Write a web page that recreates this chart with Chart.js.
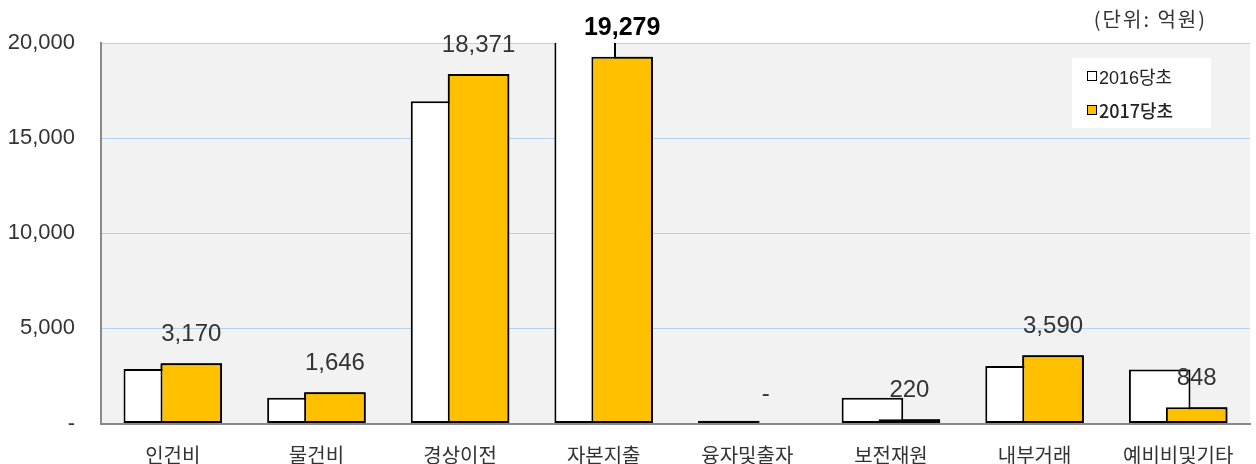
<!DOCTYPE html>
<html>
<head>
<meta charset="utf-8">
<script src="https://cdn.jsdelivr.net/npm/chart.js@4"></script>
<style>
  body { margin: 0; background: #fff; }
  #wrap { position: relative; width: 1256px; height: 464px; }
  #unit { position: absolute; right: 49px; top: 4px; font: 20px "Noto Sans CJK KR", sans-serif; color: #333; letter-spacing: 2px; }
  #legend { position: absolute; left: 1072px; top: 58px; width: 139px; height: 70px; background: #fff; }
  .item { position: absolute; left: 15px; height: 20px; display: flex; align-items: center; font-size: 18px; color: #222; }
  .box { width: 8px; height: 8px; border: 1.5px solid #000; margin-right: 2px; }
</style>
</head>
<body>
<div id="wrap">
  <canvas id="chart" width="1256" height="464"></canvas>
  <div id="unit">(단위: 억원)</div>
  <div id="legend">
    <div class="item" style="top:8px; font-family:'Liberation Sans','Noto Sans CJK KR',sans-serif;"><span class="box" style="background:#fff"></span>2016당초</div>
    <div class="item" style="top:42px; font-family:'Noto Sans CJK KR',sans-serif; font-weight:500;"><span class="box" style="background:#ffc000"></span>2017당초</div>
  </div>
</div>
<script>
// 예산 성질별 (단위: 억원)
const categories = ['인건비', '물건비', '경상이전', '자본지출', '융자및출자', '보전재원', '내부거래', '예비비및기타'];
const budget2016 = [2870, 1350, 16940, 21300, 150, 1350, 3020, 2840];
const budget2017 = [3170, 1646, 18371, 19279, 0, 220, 3590, 848];
const yMax = 20000;
const yStep = 5000;

const fmt = v => v === 0 ? '-' : v.toLocaleString('en-US');

// gray plot background
const plotBg = {
    id: 'plotBg',
    beforeDraw(chart) {
        const { ctx, chartArea: a } = chart;
        ctx.save();
        ctx.fillStyle = '#f2f2f2';
        ctx.fillRect(a.left, a.top, a.right - a.left, a.bottom - a.top);
        ctx.restore();
    }
};

// 2017 bars go on top of the 2016 bars, then the value labels
const valueLabels = {
    id: 'valueLabels',
    afterDatasetsDraw(chart) {
        const { ctx, chartArea: a } = chart;
        const meta = chart.getDatasetMeta(1);

        ctx.save();
        ctx.beginPath();
        ctx.rect(a.left, a.top, a.right - a.left, a.bottom - a.top);
        ctx.clip();
        meta.controller.draw();
        ctx.restore();

        ctx.save();
        ctx.textAlign = 'center';
        ctx.textBaseline = 'middle';
        meta.data.forEach((bar, i) => {
            const v = budget2017[i];
            if (v === Math.max(...budget2017)) {
                ctx.font = 'bold 25px "Liberation Sans", sans-serif';
                ctx.fillStyle = '#000';
            } else {
                ctx.font = '24px "Liberation Sans", sans-serif';
                ctx.fillStyle = '#333';
            }
            ctx.fillText(fmt(v), bar.x, bar.y - 29);
        });
        ctx.restore();
    }
};

new Chart(document.getElementById('chart'), {
    type: 'bar',
    data: {
        labels: categories,
        datasets: [{
            label: '2016당초',
            data: budget2016,
            backgroundColor: '#ffffff',
            borderColor: '#000',
            borderWidth: 2,
            borderSkipped: false
        }, {
            label: '2017당초',
            data: budget2017,
            backgroundColor: '#ffc000',
            borderColor: '#000',
            borderWidth: 2,
            borderSkipped: false
        }]
    },
    options: {
        responsive: false,
        animation: false,
        devicePixelRatio: 1,
        categoryPercentage: 0.515,
        barPercentage: 1.665,
        layout: { padding: { top: 43, right: 6, left: 0, bottom: 0 } },
        plugins: {
            legend: { display: false },
            tooltip: { enabled: false }
        },
        scales: {
            x: {
                grid: { display: false },
                border: { color: '#898989', width: 2 },
                ticks: {
                    padding: 12,
                    color: '#333',
                    font: { family: '"Noto Sans CJK KR", sans-serif', size: 20 }
                },
                afterFit: s => { s.height = 40.5; }
            },
            y: {
                min: 0,
                max: yMax,
                grid: { color: '#b3d2ee', drawTicks: false },
                border: { color: '#898989', width: 2 },
                ticks: {
                    stepSize: yStep,
                    padding: 26,
                    color: '#333',
                    font: { family: '"Liberation Sans", sans-serif', size: 22 },
                    callback: v => fmt(v)
                },
                afterFit: s => { s.width = 101; }
            }
        }
    },
    plugins: [plotBg, valueLabels]
});
</script>
</body>
</html>
